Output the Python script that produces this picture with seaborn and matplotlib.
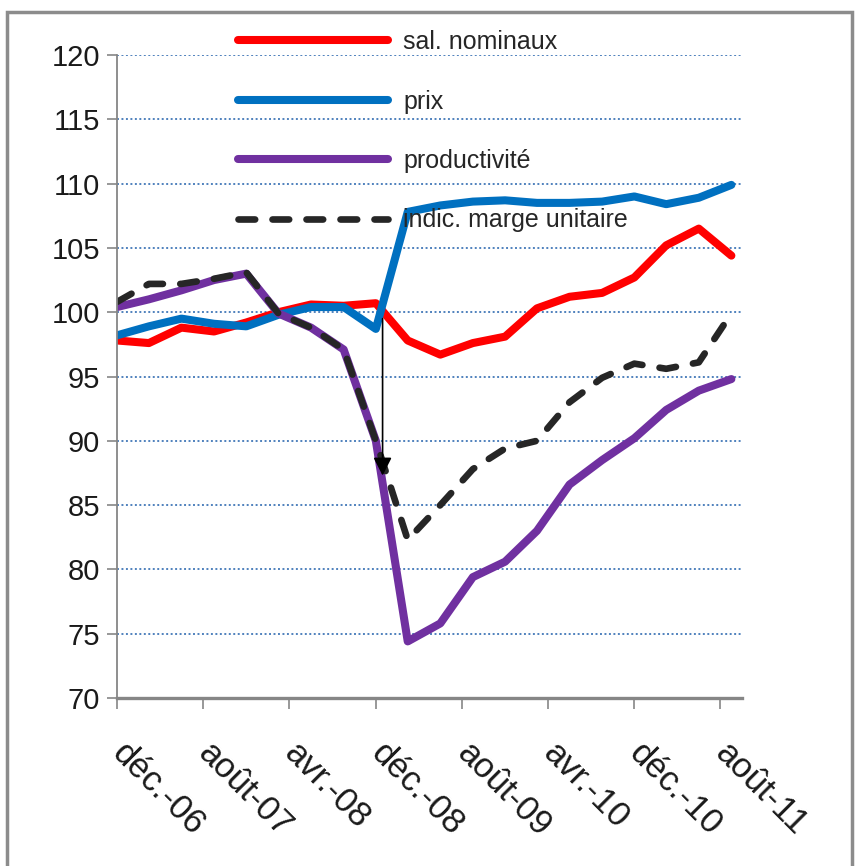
import matplotlib
matplotlib.use("Agg")
import matplotlib.pyplot as plt
from matplotlib.patches import Rectangle
import seaborn as sns
import pandas as pd

# Quarterly index series (base 100)
dates = pd.date_range("2006-12-01", periods=20, freq="3MS")

sal_nominaux = [97.8, 97.6, 98.8, 98.5, 99.2, 100.0, 100.6, 100.5, 100.7, 97.8,
                96.7, 97.6, 98.1, 100.3, 101.2, 101.5, 102.7, 105.2, 106.5, 104.4]
prix = [98.2, 98.9, 99.5, 99.1, 98.9, 99.8, 100.4, 100.4, 98.7, 107.8,
        108.3, 108.6, 108.7, 108.5, 108.5, 108.6, 109.0, 108.4, 108.9, 109.9]
productivite = [100.4, 101.0, 101.7, 102.5, 103.0, 99.9, 98.8, 97.1, 90.0, 74.4,
                75.8, 79.4, 80.6, 83.0, 86.6, 88.5, 90.2, 92.4, 93.9, 94.8]
marge_unitaire = [100.8, 102.2, 102.2, 102.6, 103.1, 99.9, 98.8, 97.1, 90.0, 82.3,
                  85.0, 87.8, 89.4, 90.0, 93.0, 94.9, 96.0, 95.6, 96.1, 99.9]

series_labels = ["sal. nominaux", "prix", "productivité", "indic. marge unitaire"]
series_colors = ["#FF0000", "#0070C0", "#7030A0", "#262626"]

tick_dates = pd.date_range("2006-12-01", "2011-08-01", freq="8MS")
tick_labels = ["déc.-06", "août-07", "avr.-08", "déc.-08",
               "août-09", "avr.-10", "déc.-10", "août-11"]
y_ticks = [70, 75, 80, 85, 90, 95, 100, 105, 110, 115, 120]

# Arrow marking the drop at the end of 2008
arrow_date = pd.Timestamp("2008-12-20")
arrow_from, arrow_to = 99.5, 87.3

sns.set_theme(style="white")
plt.rcParams["font.family"] = ["Liberation Sans", "DejaVu Sans"]

fig = plt.figure(figsize=(8.59, 8.66), dpi=100)
ax = fig.add_axes([117 / 859, 1 - 698 / 866, (742 - 117) / 859, (698 - 55) / 866])

all_series = [sal_nominaux, prix, productivite, marge_unitaire]
lines = []
for vals, lab, col in zip(all_series, series_labels, series_colors):
    sns.lineplot(x=dates, y=vals, ax=ax, color=col, linewidth=5.8, label=lab,
                 solid_capstyle="round", solid_joinstyle="round")
    lines.append(ax.get_lines()[-1])

dash_line = lines[3]
dash_line.set_linewidth(4.8)
dash_line.set_dashes((2.5, 2.6))
dash_line.set_dash_capstyle("round")

ax.annotate("", xy=(arrow_date, arrow_to), xytext=(arrow_date, arrow_from),
            arrowprops=dict(arrowstyle="-|>,head_length=0.55,head_width=0.28",
                            color="black", lw=1.2, mutation_scale=20,
                            shrinkA=0, shrinkB=0))

ax.set_ylim(70, 120)
ax.set_xlim(pd.Timestamp("2006-12-01"), pd.Timestamp("2011-10-01"))
ax.set_yticks(y_ticks)
ax.set_yticklabels([str(v) for v in y_ticks], fontsize=21, color="#1a1a1a")
ax.set_xticks(tick_dates)
ax.set_xticklabels(tick_labels, fontsize=25, color="#1a1a1a", rotation=-45,
                   ha="left", va="center", rotation_mode="anchor")
ax.set_xlabel("")
ax.set_ylabel("")

for gy in y_ticks[1:]:
    ax.axhline(gy, color="#4F81BD", linewidth=1.4, linestyle=(0, (1, 1.3)),
               zorder=0.5)

ax.tick_params(axis="y", direction="out", length=7, width=1.2, color="#868686",
               pad=5, left=True)
ax.tick_params(axis="x", direction="out", length=8, width=1.2, color="#868686",
               pad=28, bottom=True)

for side in ["top", "right"]:
    ax.spines[side].set_visible(False)
ax.spines["left"].set_color("#868686")
ax.spines["left"].set_linewidth(1.3)
ax.spines["bottom"].set_color("#868686")
ax.spines["bottom"].set_linewidth(2.4)

ax.legend(handles=lines, labels=series_labels, frameon=False, fontsize=18,
          loc="upper left", bbox_to_anchor=(238 / 859, 1 - 30 / 866),
          bbox_transform=fig.transFigure, handlelength=6.0, handletextpad=0.6,
          labelspacing=1.42, borderpad=0, borderaxespad=0)

# Chart frame
fig.patches.append(Rectangle((7 / 859, -0.05), (852 - 7) / 859, 1.05 - 12 / 866,
                             transform=fig.transFigure, fill=False,
                             edgecolor="#8c8c8c", linewidth=2.5))

fig.savefig("out.png", dpi=100)
